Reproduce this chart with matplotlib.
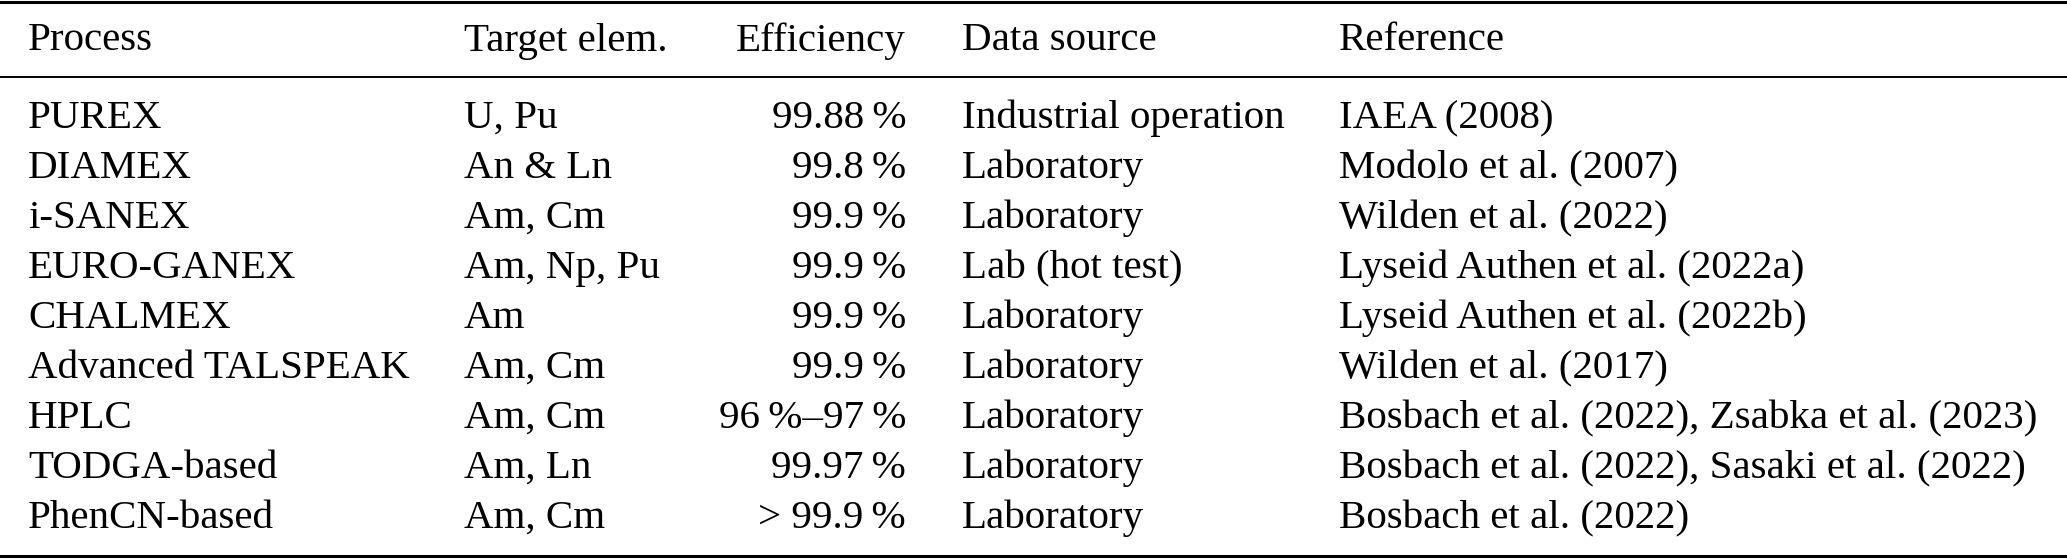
import matplotlib.pyplot as plt

# Table contents
headers = ["Process", "Target elem.", "Efficiency", "Data source", "Reference"]
processes = ["PUREX", "DIAMEX", "i-SANEX", "EURO-GANEX", "CHALMEX",
             "Advanced TALSPEAK", "HPLC", "TODGA-based", "PhenCN-based"]
targets = ["U, Pu", "An & Ln", "Am, Cm", "Am, Np, Pu", "Am",
           "Am, Cm", "Am, Cm", "Am, Ln", "Am, Cm"]
efficiencies = ["99.88\u2009%", "99.8\u2009%", "99.9\u2009%", "99.9\u2009%", "99.9\u2009%",
                "99.9\u2009%", "96\u2009%–97\u2009%", "99.97\u2009%", "> 99.9\u2009%"]
sources = ["Industrial operation", "Laboratory", "Laboratory", "Lab (hot test)",
           "Laboratory", "Laboratory", "Laboratory", "Laboratory", "Laboratory"]
references = ["IAEA (2008)", "Modolo et al. (2007)", "Wilden et al. (2022)",
              "Lyseid Authen et al. (2022a)", "Lyseid Authen et al. (2022b)",
              "Wilden et al. (2017)", "Bosbach et al. (2022), Zsabka et al. (2023)",
              "Bosbach et al. (2022), Sasaki et al. (2022)", "Bosbach et al. (2022)"]

plt.rcParams["font.family"] = ["Liberation Serif", "DejaVu Serif"]

W, H = 2067, 560
fig = plt.figure(figsize=(W / 100, H / 100), dpi=100)
ax = fig.add_axes([0, 0, 1, 1])
ax.set_xlim(0, W)
ax.set_ylim(H, 0)
ax.axis("off")

fs = 29.5

# column anchors (x, alignment)
cols = [(28, "left"), (464, "left"), (906, "right"), (962, "left"), (1339, "left")]
columns = [processes, targets, efficiencies, sources, references]

header_y = 41
row0, dy = 118.5, 50

for (x, ha), h in zip(cols, headers):
    ax.text(x, header_y, h, ha=ha, va="center", fontsize=fs)

for (x, ha), col in zip(cols, columns):
    for i, val in enumerate(col):
        ax.text(x, row0 + i * dy, val, ha=ha, va="center", fontsize=fs)

# booktabs style rules
ax.axhline(2, color="black", lw=2.2)
ax.axhline(77, color="black", lw=1.4)
ax.axhline(556, color="black", lw=2.2)

fig.savefig("out.png", dpi=100)
